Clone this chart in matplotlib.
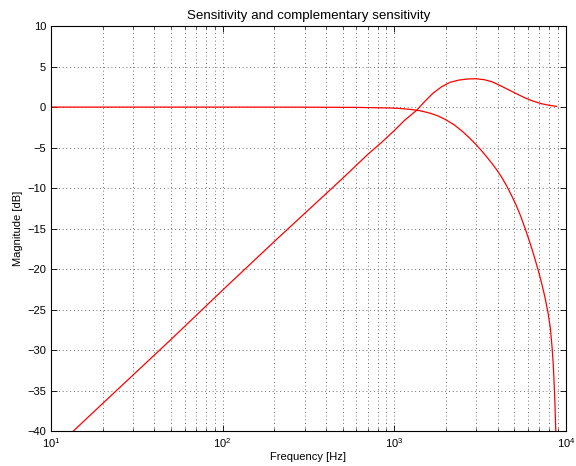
import matplotlib
matplotlib.use('Agg')
import matplotlib.pyplot as plt
from matplotlib.ticker import LogLocator, MultipleLocator
import numpy as np

# values
sens_freq = [13.5, 20, 50, 100, 200, 500, 700, 850, 1000, 1153, 1349, 1514,
             1687, 1884, 2109, 2371, 2661, 2985, 3350, 3715, 4121, 4624,
             5152, 5754, 6440, 7194, 8050, 8810]
sens_db = [-40.0, -36.6, -28.7, -22.6, -16.6, -8.8, -5.85, -4.3, -2.9, -1.6,
           -0.4, 0.75, 1.74, 2.5, 3.05, 3.33, 3.47, 3.5, 3.38, 3.12, 2.68,
           2.15, 1.65, 1.15, 0.74, 0.42, 0.21, 0.09]

comp_freq = [10, 100, 300, 600, 1000, 1122, 1259, 1410, 1585, 1778, 1972,
             2239, 2518, 2754, 2985, 3214, 3444, 3698, 3972, 4236, 4508,
             4820, 5152, 5458, 5754, 6095, 6442, 6887, 7211, 7534, 7870,
             8128, 8299, 8414, 8492, 8610, 8730]
comp_db = [0.0, 0.0, -0.01, -0.04, -0.12, -0.2, -0.3, -0.45, -0.7, -1.05,
           -1.5, -2.2, -3.08, -3.85, -4.6, -5.35, -6.1, -6.93, -7.8, -8.7,
           -9.7, -10.9, -12.2, -13.5, -14.85, -16.4, -18.0, -20.1, -21.7,
           -23.4, -25.4, -27.4, -29.6, -31.4, -33.0, -36.0, -40.0]

plt.rcParams['font.family'] = ['Liberation Sans', 'DejaVu Sans']
plt.rcParams['font.size'] = 8

fig = plt.figure(figsize=(5.76, 4.66), dpi=100)
ax = fig.add_axes([0.0885, 0.075, 0.894, 0.869])

ax.semilogx(sens_freq, sens_db, color='red', linewidth=0.9)
ax.semilogx(comp_freq, comp_db, color='red', linewidth=0.9)

ax.set_xlim(10, 1e4)
ax.set_ylim(-40, 10)
ax.yaxis.set_major_locator(MultipleLocator(5))
ax.xaxis.set_major_locator(LogLocator(base=10, numticks=10))
ax.xaxis.set_minor_locator(LogLocator(base=10, subs=np.arange(2, 10), numticks=10))

grid_style = dict(linestyle=(0, (1, 3.5)), color='0.25', linewidth=0.6)
ax.grid(True, which='major', **grid_style)
ax.grid(True, which='minor', axis='x', **grid_style)

ax.tick_params(which='both', direction='in', top=True, right=True)
ax.tick_params(which='major', length=4, width=0.6)
ax.tick_params(which='minor', length=2, width=0.5)
for s in ax.spines.values():
    s.set_linewidth(0.8)

ax.set_title('Sensitivity and complementary sensitivity', pad=5)
ax.set_xlabel('Frequency [Hz]', labelpad=2)
ax.set_ylabel('Magnitude [dB]', labelpad=3)

fig.savefig('out.png', dpi=100)
